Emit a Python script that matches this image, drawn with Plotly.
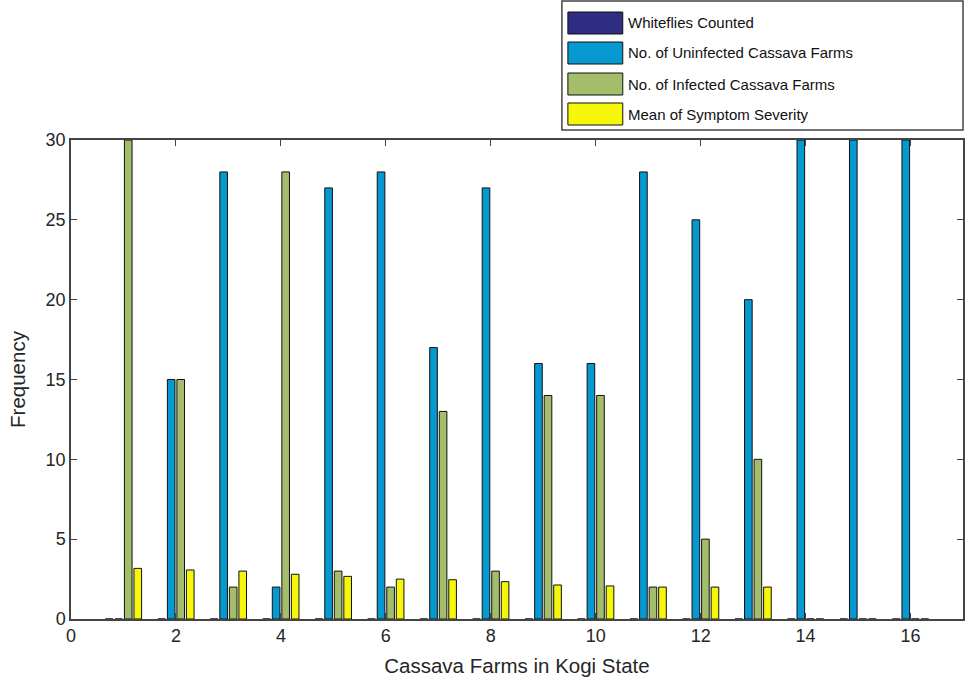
import plotly.graph_objects as go

farms = list(range(1, 17))
whiteflies = [0] * 16
uninfected = [0, 15, 28, 2, 27, 28, 17, 27, 16, 16, 28, 25, 20, 30, 30, 30]
infected = [30, 15, 2, 28, 3, 2, 13, 3, 14, 14, 2, 5, 10, 0, 0, 0]
severity = [3.17, 3.07, 3.0, 2.8, 2.67, 2.5, 2.46, 2.34, 2.13, 2.07, 2.0, 2.0, 2.0, 0, 0, 0]

names = ["Whiteflies Counted", "No. of Uninfected Cassava Farms",
         "No. of Infected Cassava Farms", "Mean of Symptom Severity"]
values = [whiteflies, uninfected, infected, severity]
colors = ["#2F2C84", "#0599CF", "#A3BD6A", "#F6F60A"]

fig = go.Figure()
for name, vals, col in zip(names, values, colors):
    fig.add_trace(go.Bar(
        x=farms, y=vals, name=name, showlegend=False,
        marker=dict(color=col, line=dict(color="#111111", width=1)),
    ))

W, H = 967, 681
L, T = 71, 140
PW = 965 - 71
PH = 619 - 140
R = W - L - PW
B = H - T - PH

def px(xp):
    return (xp - L) / PW

def py(yp):
    return (T + PH - yp) / PH

shapes = [dict(
    type="rect", xref="paper", yref="paper",
    x0=px(563), x1=px(965), y0=py(130), y1=py(1),
    line=dict(color="#444444", width=1.5), fillcolor="white", layer="above",
)]
annotations = []
sw_top = [12, 42, 73, 103]
for i, (name, col) in enumerate(zip(names, colors)):
    y0, y1 = sw_top[i], sw_top[i] + 22
    shapes.append(dict(
        type="rect", xref="paper", yref="paper",
        x0=px(569), x1=px(624), y0=py(y1), y1=py(y0),
        line=dict(color="#111111", width=1), fillcolor=col, layer="above",
    ))
    annotations.append(dict(
        text=name, xref="paper", yref="paper", x=px(627), y=py((y0 + y1) / 2),
        xanchor="left", yanchor="middle", showarrow=False,
        font=dict(size=15, color="#111111"),
    ))

fig.update_layout(
    width=W, height=H,
    margin=dict(l=L, r=R, t=T, b=B),
    paper_bgcolor="white", plot_bgcolor="white",
    font=dict(family="Liberation Sans, Arial, sans-serif", color="#262626", size=18),
    barmode="group", bargap=0.273, bargroupgap=0.2,
    showlegend=False,
    shapes=shapes, annotations=annotations,
    xaxis=dict(
        range=[0, 17], tickvals=[0, 2, 4, 6, 8, 10, 12, 14, 16],
        ticks="inside", ticklen=6, tickcolor="#444444",
        showline=True, linecolor="#444444", linewidth=1.5, mirror="ticks",
        showgrid=False, zeroline=False,
        tickfont=dict(size=18),
        title=dict(text="Cassava Farms in Kogi State", font=dict(size=20.5), standoff=13),
    ),
    yaxis=dict(
        range=[0, 30], tickvals=[0, 5, 10, 15, 20, 25, 30],
        ticks="inside", ticklen=6, tickcolor="#444444",
        showline=True, linecolor="#444444", linewidth=1.5, mirror="ticks",
        showgrid=False, zeroline=False,
        tickfont=dict(size=18),
        title=dict(text="Frequency", font=dict(size=20.5), standoff=14),
    ),
)

fig.write_html(
    "out.html",
    config={"displayModeBar": False},
    post_script="document.body.style.margin='0';document.body.style.overflow='hidden';",
)
